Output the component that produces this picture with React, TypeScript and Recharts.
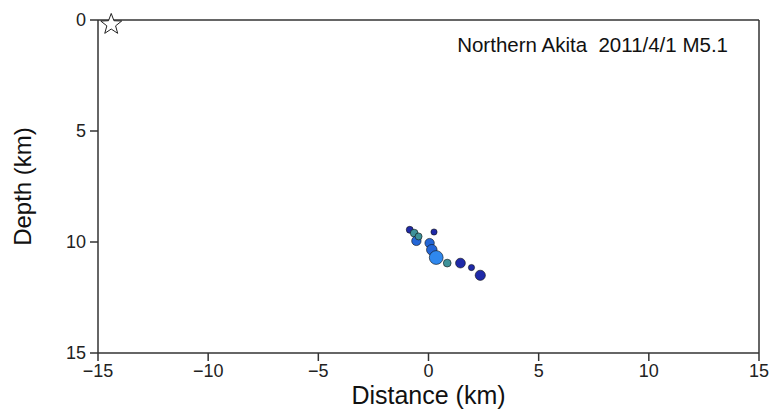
import React from "react";
import {
  ScatterChart,
  Scatter,
  XAxis,
  YAxis,
} from "recharts";

const xTicks = [-15, -10, -5, 0, 5, 10, 15];
const yTicks = [0, 5, 10, 15];

// hypocenters: distance along profile (km), depth (km), magnitude, time group
const eqDist = [-0.85, -0.65, -0.55, -0.45, 0.25, 0.05, 0.15, 0.35, 0.85, 1.45, 1.95, 2.35];
const eqDepth = [9.45, 9.6, 9.95, 9.75, 9.55, 10.05, 10.35, 10.7, 10.95, 10.95, 11.15, 11.5];
const eqMag = [1.0, 1.2, 1.6, 1.0, 0.8, 1.6, 1.9, 2.7, 1.2, 1.7, 0.8, 1.8];
const eqGroup = [0, 2, 1, 2, 0, 1, 1, 3, 2, 0, 0, 0];

const mainShock = [{ x: -14.4, y: 0.2 }];

const groupColors = ["#1f2aa8", "#2466d6", "#3d9198", "#2f88ee"];

const quakes = eqDist.map((d, i) => ({
  x: d,
  y: eqDepth[i],
  mag: eqMag[i],
  group: eqGroup[i],
}));

const font = "'Liberation Sans', Arial, sans-serif";
const fmt = (v: number) => String(v).replace("-", "\u2212");

const QuakeDot = (props: any) => {
  const { cx, cy, payload } = props;
  const r = 1.5 + payload.mag * 2;
  return (
    <circle
      cx={cx}
      cy={cy}
      r={r}
      fill={groupColors[payload.group]}
      stroke="#111"
      strokeWidth={0.6}
    />
  );
};

const StarShape = (props: any) => {
  const { cx, cy } = props;
  const outer = 11;
  const inner = 4.6;
  const pts: string[] = [];
  for (let i = 0; i < 10; i++) {
    const r = i % 2 === 0 ? outer : inner;
    const a = -Math.PI / 2 + (i * Math.PI) / 5;
    pts.push(`${cx + r * Math.cos(a)},${cy + r * Math.sin(a)}`);
  }
  return <polygon points={pts.join(" ")} fill="white" stroke="#222" strokeWidth={1} />;
};

const tickStyle = { fontSize: 18, fill: "#222", fontFamily: font };
const axisLine = { stroke: "#333", strokeWidth: 1.5 };

export default function App() {
  return (
    <div style={{ position: "absolute", left: 0, top: 0, background: "white" }}>
      <ScatterChart
        width={773}
        height={412}
        margin={{ top: 0, right: 0, bottom: 0, left: 0 }}
      >
        <XAxis
          type="number"
          dataKey="x"
          xAxisId="bottom"
          orientation="bottom"
          domain={[-15, 15]}
          ticks={xTicks}
          tickFormatter={fmt}
          tickSize={8}
          tickMargin={3}
          tick={tickStyle}
          axisLine={axisLine}
          tickLine={axisLine}
          height={59}
          label={{
            value: "Distance (km)",
            position: "insideBottom",
            offset: 8,
            style: { fontSize: 25, fill: "#111", fontFamily: font },
          }}
        />
        <XAxis
          type="number"
          dataKey="x"
          xAxisId="top"
          orientation="top"
          domain={[-15, 15]}
          ticks={xTicks}
          tick={false}
          tickSize={7}
          axisLine={axisLine}
          tickLine={axisLine}
          height={20}
        />
        <YAxis
          type="number"
          dataKey="y"
          yAxisId="left"
          orientation="left"
          domain={[0, 15]}
          reversed
          ticks={yTicks}
          tickSize={8}
          tickMargin={4}
          tick={tickStyle}
          axisLine={axisLine}
          tickLine={axisLine}
          width={98}
          label={{
            value: "Depth (km)",
            angle: -90,
            position: "insideLeft",
            offset: 22,
            style: { fontSize: 24, fill: "#111", fontFamily: font, textAnchor: "middle" },
          }}
        />
        <YAxis
          type="number"
          dataKey="y"
          yAxisId="right"
          orientation="right"
          domain={[0, 15]}
          reversed
          ticks={yTicks}
          tick={false}
          tickSize={7}
          axisLine={axisLine}
          tickLine={axisLine}
          width={14}
        />
        <Scatter
          data={quakes}
          xAxisId="bottom"
          yAxisId="left"
          shape={QuakeDot}
          isAnimationActive={false}
        />
        <Scatter
          data={mainShock}
          xAxisId="bottom"
          yAxisId="left"
          shape={StarShape}
          isAnimationActive={false}
        />
        <text
          x={728}
          y={52}
          textAnchor="end"
          fontSize={20.5}
          fill="#111"
          fontFamily={font}
          style={{ whiteSpace: "pre" }}
        >
          Northern Akita  2011/4/1 M5.1
        </text>
      </ScatterChart>
    </div>
  );
}
